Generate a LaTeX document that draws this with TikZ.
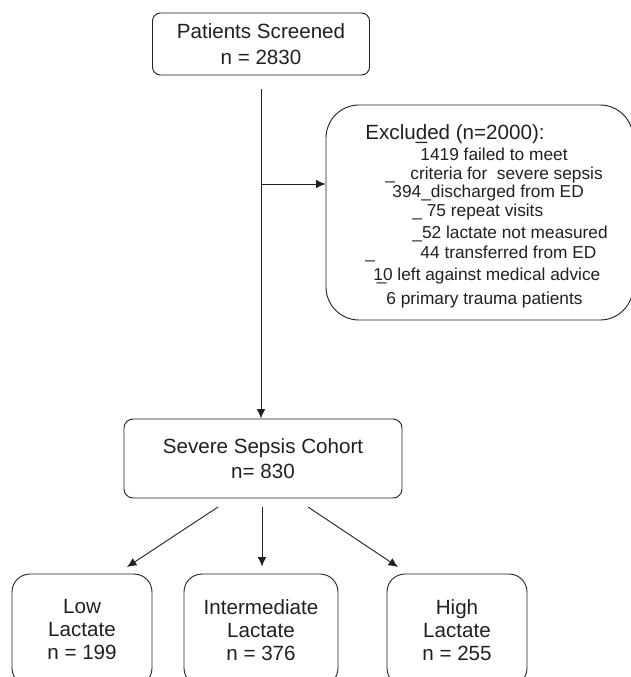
\documentclass[tikz,border=0pt]{standalone}
\usepackage{fontspec}
\setmainfont{Liberation Sans}
\usetikzlibrary{arrows.meta}
\usetikzlibrary{calc}
\definecolor{inkgray}{RGB}{35,31,32}

\begin{document}
\begin{tikzpicture}[x=1pt,y=-1pt,inner sep=0pt,line width=0.9pt,color=inkgray,
        >={Latex[length=9.5pt,width=8.5pt]},
        box/.style={draw,align=center},
        xline/.style={anchor=base west,font=\fontsize{17.3}{20}\selectfont}]
        \useasboundingbox (0,0) rectangle (631,677);
        \clip (0,0) rectangle (631,677);
        % screening and exclusions
        \draw node [box,rounded corners=8pt,minimum width=217pt,minimum height=62pt,
            font=\fontsize{20.6}{26}\selectfont] (P01) at (261,44)
            {Patients Screened\\n = 2830};
        \draw node [draw,rounded corners=33pt,minimum width=307pt,
            minimum height=215pt] (E01) at (479.5,212.5) {};
        \draw node [anchor=base west,font=\fontsize{20.6}{25}\selectfont]
            (X01) at (365,139) {Exclu\rlap{\_}ded (n=2000):};
        \draw node [xline] (X02) at (420,160) {1419 failed to meet};
        \draw node [xline] (X03) at (385,179)
            {\_\hspace{15.4pt}criteria for~ severe sepsis};
        \draw node [xline] (X04) at (392,197) {394\_discharged from ED};
        \draw node [xline] (X05) at (412,216) {\_ 75 repeat visits};
        \draw node [xline] (X06) at (412,238) {\_52 lactate not measured};
        \draw node [xline] (X07) at (365,258)
            {\_\hspace{45.4pt}44 transferred from ED};
        \draw node [xline] (X08) at (373,280)
            {\rlap{\hspace{3.5pt}\_}10 left against medical advice};
        \draw node [xline] (X09) at (386,304) {6 primary trauma patients};
        % cohort and lactate groups
        \draw node [box,rounded corners=9pt,minimum width=278pt,minimum height=79pt,
            font=\fontsize{20.6}{25}\selectfont] (S01) at (263,458.5)
            {Severe Sepsis Cohort\\n= 830};
        \draw node [box,rounded corners=18pt,minimum width=140pt,minimum height=112pt,
            font=\fontsize{20.6}{23}\selectfont] (L01) at (82,630)
            {Low\\Lactate\\n = 199};
        \draw node [box,rounded corners=18pt,minimum width=154pt,minimum height=112pt,
            font=\fontsize{20.6}{23}\selectfont] (L02) at (261,630)
            {Intermediate\\Lactate\\n = 376};
        \draw node [box,rounded corners=18pt,minimum width=140pt,minimum height=112pt,
            font=\fontsize{20.6}{23}\selectfont] (L03) at (457,630)
            {High\\Lactate\\n = 255};
        \coordinate (J01) at (261,184);
        \coordinate (T01) at (218,507);
        \coordinate (T02) at (262,507);
        \coordinate (T03) at (308,507);
        \coordinate (H01) at (127,567);
        \coordinate (H03) at (398,567);
        \draw [->,shorten <=14pt] (P01.south) -- (P01.south |- S01.north);
        \draw [->] (J01) -- (J01 -| E01.west);
        \draw [->] (T01) -- (H01);
        \draw [->,shorten >=7pt] (T02) -- (T02 |- L02.north);
        \draw [->] (T03) -- (H03);
\end{tikzpicture}
\end{document}
